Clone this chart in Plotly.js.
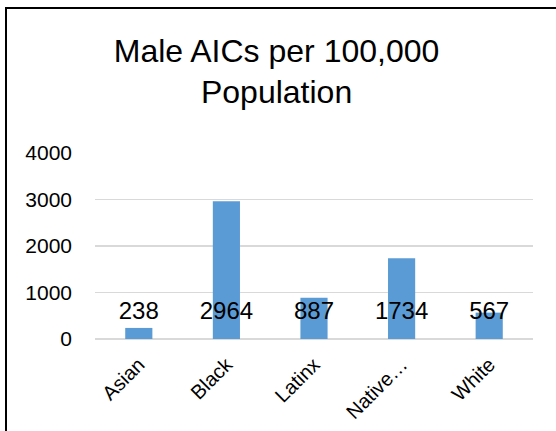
<!DOCTYPE html>
<html>
<head>
<meta charset="utf-8">
<script src="https://cdn.plot.ly/plotly-3.0.1.min.js"></script>
<style>
  html, body { margin: 0; padding: 0; background: #fff; overflow: hidden; }
  #frame { position: absolute; left: 5px; top: 7px; width: 551px; height: 424px;
           border-left: 2px solid #000; border-top: 2px solid #000; }
  #chart { width: 549px; height: 422px; }
</style>
</head>
<body>
<div id="frame"><div id="chart"></div></div>
<script>
const categories = ["Asian", "Black", "Latinx", "Native\u2026", "White"];
const values = [238, 2964, 887, 1734, 567];
const labelLevel = [550, 550, 550, 550, 550];
const yTicks = [0, 1000, 2000, 3000, 4000];
const chartTitle = "Male AICs per 100,000<br>Population";

const font = "Liberation Sans, Arial, sans-serif";

const bars = {
  type: "bar",
  x: categories,
  y: values,
  marker: { color: "#5B9BD5" },
  hoverinfo: "x+y",
  showlegend: false
};
const labels = {
  type: "scatter",
  mode: "text",
  x: categories,
  y: labelLevel,
  text: values.map(String),
  textposition: "middle center",
  textfont: { family: font, size: 24, color: "#000" },
  hoverinfo: "skip",
  showlegend: false
};

const layout = {
  width: 549,
  height: 422,
  margin: { l: 88, r: 23, t: 144, b: 92 },
  paper_bgcolor: "#fff",
  plot_bgcolor: "#fff",
  bargap: 0.69,
  title: {
    text: chartTitle,
    font: { family: font, size: 32, color: "#000" },
    x: 0.491, xanchor: "center",
    y: 0.875, yanchor: "top", yref: "container"
  },
  xaxis: {
    type: "category",
    tickangle: -45,
    tickfont: { family: font, size: 20, color: "#000" },
    showgrid: false,
    zeroline: false,
    showline: false,
    ticks: "",
    ticklabelstandoff: 9
  },
  yaxis: {
    range: [0, 4000],
    tickvals: yTicks,
    ticktext: yTicks.map(String),
    tickfont: { family: font, size: 21, color: "#000" },
    showgrid: true,
    gridcolor: "#D9D9D9",
    gridwidth: 1.5,
    zeroline: true,
    zerolinecolor: "#D9D9D9",
    zerolinewidth: 1.5,
    showline: false,
    ticks: "",
    ticklabelstandoff: 22
  }
};

Plotly.newPlot("chart", [bars, labels], layout, { displayModeBar: false, staticPlot: true });
</script>
</body>
</html>
